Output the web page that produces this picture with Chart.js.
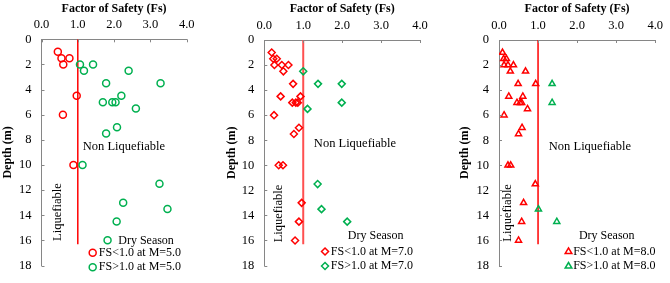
<!DOCTYPE html>
<html>
<head>
<meta charset="utf-8">
<script src="https://cdn.jsdelivr.net/npm/chart.js@4.4.1/dist/chart.umd.min.js"></script>
<style>
  html, body { margin: 0; padding: 0; background: #fff; }
  body { width: 670px; height: 283px; position: relative; overflow: hidden; }
  canvas { position: absolute; top: 0; }
</style>
</head>
<body>
<canvas id="c1" width="215" height="283" style="left:0px"></canvas>
<canvas id="c2" width="216" height="283" style="left:224px"></canvas>
<canvas id="c3" width="213" height="283" style="left:457px"></canvas>
<script>
// depth ticks and FS ticks
const depthTicks = [0, 2, 4, 6, 8, 10, 12, 14, 16, 18];
const fsTicks = [0, 1, 2, 3, 4];
const limitFs = 1.0;
const limitDepth = [0, 16.3];

// M = 5.0
const m5LowFs = [0.45, 0.55, 0.77, 0.6, 0.97, 0.59, 0.88];
const m5LowDepth = [1, 1.5, 1.5, 2, 4.5, 6, 10];
const m5HighFs = [1.06, 1.42, 1.17, 2.4, 1.78, 3.28, 2.2, 1.69, 1.95, 2.04, 2.6, 2.08, 1.78, 1.13, 3.25, 2.25, 3.47, 2.07, 1.82];
const m5HighDepth = [2, 2, 2.5, 2.5, 3.5, 3.5, 4.5, 5, 5, 5, 5.5, 7, 7.5, 10, 11.5, 13, 13.5, 14.5, 16];

// M = 7.0
const m7LowFs = [0.19, 0.23, 0.32, 0.26, 0.45, 0.62, 0.49, 0.74, 0.93, 0.42, 0.72, 0.81, 0.86, 0.25, 0.89, 0.76, 0.37, 0.48, 0.96, 0.89, 0.79];
const m7LowDepth = [1, 1.5, 1.5, 2, 2, 2, 2.5, 3.5, 4.5, 4.5, 5, 5, 5, 6, 7, 7.5, 10, 10, 13, 14.5, 16];
const m7HighFs = [1.0, 1.38, 1.99, 1.99, 1.11, 1.37, 1.47, 2.13];
const m7HighDepth = [2.5, 3.5, 3.5, 5, 5.5, 11.5, 13.5, 14.5];

// M = 8.0
const m8LowFs = [0.09, 0.12, 0.19, 0.13, 0.23, 0.37, 0.29, 0.68, 0.49, 0.94, 0.25, 0.61, 0.46, 0.54, 0.58, 0.73, 0.13, 0.59, 0.5, 0.23, 0.3, 0.93, 0.63, 0.58, 0.5];
const m8LowDepth = [1, 1.5, 1.5, 2, 2, 2, 2.5, 2.5, 3.5, 3.5, 4.5, 4.5, 5, 5, 5, 5.5, 6, 7, 7.5, 10, 10, 11.5, 13, 14.5, 16];
const m8HighFs = [1.36, 1.36, 1.01, 1.48];
const m8HighDepth = [3.5, 5, 13.5, 14.5];

const RED = "#ff0000";
const GREEN = "#00b050";
const AXIS = "#868686";
const FONT = "'Liberation Serif', 'Times New Roman', serif";

const pts = (xs, ys) => xs.map((x, i) => ({ x: x, y: ys[i] }));

function marker(ctx, style, x, y, r, color) {
  ctx.save();
  ctx.strokeStyle = color;
  ctx.lineWidth = 1.5;
  ctx.beginPath();
  if (style === "circle") {
    ctx.arc(x, y, r, 0, Math.PI * 2);
  } else if (style === "rectRot") {
    ctx.moveTo(x, y - r); ctx.lineTo(x + r, y); ctx.lineTo(x, y + r); ctx.lineTo(x - r, y); ctx.closePath();
  } else {
    ctx.moveTo(x, y - r); ctx.lineTo(x + r * 0.95, y + r * 0.6); ctx.lineTo(x - r * 0.95, y + r * 0.6); ctx.closePath();
  }
  ctx.stroke();
  ctx.restore();
}

const extras = {
  id: "extras",
  afterDraw(chart, args, o) {
    const ctx = chart.ctx;
    const xs = chart.scales.x, ys = chart.scales.y, a = chart.chartArea;
    ctx.save();
    // inward ticks
    ctx.strokeStyle = AXIS;
    ctx.lineWidth = 1;
    depthTicks.forEach(v => {
      const py = Math.round(ys.getPixelForValue(v)) + 0.5;
      ctx.beginPath(); ctx.moveTo(a.left, py); ctx.lineTo(a.left + 3, py); ctx.stroke();
    });
    fsTicks.forEach(v => {
      const px = Math.round(xs.getPixelForValue(v)) + 0.5;
      ctx.beginPath(); ctx.moveTo(px, a.top); ctx.lineTo(px, a.top + 3); ctx.stroke();
    });
    // zone labels
    ctx.fillStyle = "#000";
    ctx.font = "12.5px " + FONT;
    ctx.textAlign = "center";
    ctx.textBaseline = "middle";
    ctx.fillText("Non Liquefiable", xs.getPixelForValue(o.non[0]), ys.getPixelForValue(o.non[1]));
    ctx.save();
    ctx.translate(xs.getPixelForValue(o.liq[0]), ys.getPixelForValue(o.liq[1]));
    ctx.rotate(-Math.PI / 2);
    ctx.fillText("Liquefiable", 0, 0);
    ctx.restore();
    // legend
    ctx.font = "12px " + FONT;
    ctx.fillText("Dry Season", xs.getPixelForValue(o.season[0]), ys.getPixelForValue(o.season[1]));
    ctx.textAlign = "left";
    o.items.forEach(it => {
      const mx = xs.getPixelForValue(o.legX), my = ys.getPixelForValue(it.y);
      marker(ctx, o.style, mx, my, 3.5, it.color);
      ctx.fillStyle = "#000";
      ctx.fillText(it.text, xs.getPixelForValue(o.textX), my);
    });
    ctx.restore();
  }
};

function makeChart(id, cfg) {
  new Chart(document.getElementById(id), {
    type: "scatter",
    data: {
      datasets: [
        {
          data: [{ x: limitFs, y: limitDepth[0] }, { x: limitFs, y: limitDepth[1] }],
          showLine: true, borderColor: cfg.lineColor, borderWidth: cfg.lineWidth,
          pointRadius: 0, order: 3
        },
        {
          data: pts(cfg.lowFs, cfg.lowDepth),
          pointStyle: cfg.style, pointRadius: 3.5, pointBorderWidth: 1.5,
          borderColor: RED, backgroundColor: "rgba(0,0,0,0)", order: 1
        },
        {
          data: pts(cfg.highFs, cfg.highDepth),
          pointStyle: cfg.style, pointRadius: 3.5, pointBorderWidth: 1.5,
          borderColor: GREEN, backgroundColor: "rgba(0,0,0,0)", order: 2
        }
      ]
    },
    options: {
      responsive: false,
      animation: false,
      events: [],
      layout: { padding: { left: 0, top: 0, right: cfg.padRight, bottom: cfg.padBottom } },
      plugins: { legend: { display: false }, tooltip: { enabled: false }, extras: cfg.extras },
      scales: {
        x: {
          type: "linear", position: "top", min: 0, max: 4,
          afterBuildTicks: s => { s.ticks = fsTicks.map(v => ({ value: v })); },
          ticks: { callback: v => v.toFixed(1), color: "#000", font: { family: FONT, size: 12.5 }, padding: 7, maxRotation: 0 },
          grid: { drawOnChartArea: false, drawTicks: false },
          border: { color: AXIS, width: 1 },
          title: { display: true, text: "Factor of Safety (Fs)", color: "#000", font: { family: FONT, size: 12, weight: "bold" }, padding: { top: 2, bottom: 0 } },
          afterFit: s => { s.height = cfg.top; }
        },
        y: {
          type: "linear", reverse: true, min: 0, max: 18,
          afterBuildTicks: s => { s.ticks = depthTicks.map(v => ({ value: v })); },
          ticks: { color: "#000", font: { family: FONT, size: 12.5 }, padding: 10 },
          grid: { drawOnChartArea: false, drawTicks: false },
          border: { color: AXIS, width: 1 },
          title: { display: true, text: "Depth (m)", color: "#000", font: { family: FONT, size: 12, weight: "bold" }, padding: { top: 0.5, bottom: 0 } },
          afterFit: s => { s.width = cfg.left; }
        }
      }
    },
    plugins: [extras]
  });
}

makeChart("c1", {
  lowFs: m5LowFs, lowDepth: m5LowDepth, highFs: m5HighFs, highDepth: m5HighDepth,
  style: "circle", lineColor: RED, lineWidth: 1.5,
  left: 41.5, top: 39.3, padRight: 28.3, padBottom: 11.3,
  extras: {
    style: "circle", non: [2.27, 8.53], liq: [0.44, 13.75], season: [2.88, 16.0],
    legX: 1.41, textX: 1.58,
    items: [
      { text: "FS<1.0 at M=5.0", color: RED, y: 16.98 },
      { text: "FS>1.0 at M=5.0", color: GREEN, y: 18.14 }
    ]
  }
});

makeChart("c2", {
  lowFs: m7LowFs, lowDepth: m7LowDepth, highFs: m7HighFs, highDepth: m7HighDepth,
  style: "rectRot", lineColor: "#ff5050", lineWidth: 2,
  left: 40.3, top: 40, padRight: 20, padBottom: 10.3,
  extras: {
    style: "rectRot", non: [2.33, 8.25], liq: [0.38, 13.85], season: [2.86, 15.6],
    legX: 1.56, textX: 1.71,
    items: [
      { text: "FS<1.0 at M=7.0", color: RED, y: 16.88 },
      { text: "FS>1.0 at M=7.0", color: GREEN, y: 18.04 }
    ]
  }
});

makeChart("c3", {
  lowFs: m8LowFs, lowDepth: m8LowDepth, highFs: m8HighFs, highDepth: m8HighDepth,
  style: "triangle", lineColor: RED, lineWidth: 1.5,
  left: 42, top: 40, padRight: 11, padBottom: 10.3,
  extras: {
    style: "triangle", non: [2.33, 8.5], liq: [0.23, 13.8], season: [2.76, 15.6],
    legX: 1.78, textX: 1.9,
    items: [
      { text: "FS<1.0 at M=8.0", color: RED, y: 16.88 },
      { text: "FS>1.0 at M=8.0", color: GREEN, y: 18.04 }
    ]
  }
});
</script>
</body>
</html>
